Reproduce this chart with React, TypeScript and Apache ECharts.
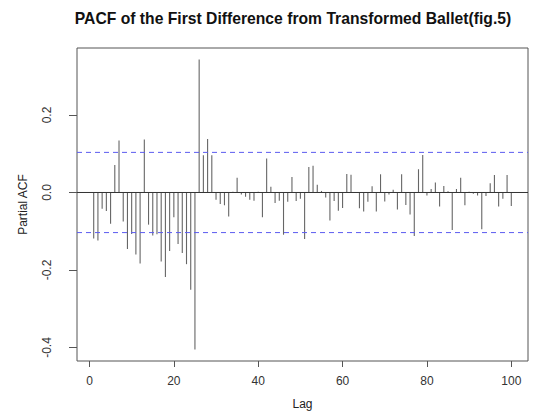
import React, { useEffect, useRef } from "react";
import * as echarts from "echarts";

const titleText = "PACF of the First Difference from Transformed Ballet(fig.5)";
const xAxisName = "Lag";
const yAxisName = "Partial ACF";
const xTickValues = [0, 20, 40, 60, 80, 100];
const yTickValues = [-0.4, -0.2, 0.0, 0.2];
const ciBound = 0.1035;

// partial autocorrelations for lags 1..100
const pacf = [
  -0.119, -0.124, -0.042, -0.048, -0.081, 0.071, 0.134, -0.075, -0.146, -0.107,
  -0.16, -0.183, 0.137, -0.083, -0.111, -0.108, -0.178, -0.218, -0.151, -0.064,
  -0.133, -0.156, -0.185, -0.251, -0.405, 0.343, 0.096, 0.138, 0.096, -0.019,
  -0.03, -0.033, -0.062, 0.002, 0.038, -0.005, -0.011, -0.019, -0.021, 0.002,
  -0.064, 0.088, 0.015, -0.027, -0.021, -0.109, -0.024, 0.04, -0.022, -0.016,
  -0.12, 0.066, 0.069, 0.02, 0.004, -0.013, -0.072, -0.022, -0.047, -0.04,
  0.048, 0.046, 0.001, -0.041, -0.049, -0.024, 0.016, -0.049, 0.047, -0.023,
  -0.005, 0.007, -0.044, 0.047, -0.032, -0.057, -0.112, 0.06, 0.097, -0.008,
  0.009, 0.026, -0.036, 0.017, 0.003, -0.097, 0.009, 0.038, -0.033, 0.002,
  -0.003, -0.008, -0.095, -0.009, 0.024, 0.045, -0.036, -0.016, 0.045, -0.035,
];

const FONT = "'Liberation Sans', Arial, Helvetica, sans-serif";
const BLUE = "#5c5cf0";

export default function App() {
  const ref = useRef<HTMLDivElement>(null);
  useEffect(() => {
    if (!ref.current) return;
    const chart = echarts.init(ref.current, undefined, { renderer: "svg" });
    const points = pacf.map((v, i) => [i + 1, v]);
    const n = pacf.length;
    const xPad = (n - 1) * 0.04;
    const xMin = 1 - xPad;
    const xMax = n + xPad;
    const yLo = Math.min(...pacf, -ciBound);
    const yHi = Math.max(...pacf, ciBound);
    const yPad = (yHi - yLo) * 0.04;
    const hLine = (y: number, color: string, type: any) => ({
      type: "line",
      data: [
        [xMin, y],
        [xMax, y],
      ],
      showSymbol: false,
      symbol: "none",
      silent: true,
      color,
      itemStyle: { color },
      lineStyle: { color, width: 1, type },
      emphasis: { disabled: true },
      z: 3,
    });
    chart.setOption({
      animation: false,
      backgroundColor: "#ffffff",
      title: {
        text: titleText,
        left: 288,
        top: 5,
        textAlign: "center",
        textStyle: { fontFamily: FONT, fontSize: 15.7, fontWeight: "bold", color: "#111" },
      },
      grid: {
        left: 77,
        top: 48,
        width: 451,
        height: 315,
        show: true,
        borderColor: "#555",
        borderWidth: 1,
        backgroundColor: "transparent",
      },
      xAxis: {
        type: "value",
        min: xMin,
        max: xMax,
        name: xAxisName,
        nameLocation: "middle",
        nameGap: 37,
        nameTextStyle: { fontFamily: FONT, fontSize: 12, color: "#222" },
        axisLine: { show: false, onZero: false },
        splitLine: { show: false },
        axisTick: { show: true, length: 6, customValues: xTickValues, lineStyle: { color: "#555" } },
        axisLabel: {
          customValues: xTickValues,
          margin: 14,
          fontFamily: FONT,
          fontSize: 12,
          color: "#333",
        },
      },
      yAxis: {
        type: "value",
        min: yLo - yPad,
        max: yHi + yPad,
        name: yAxisName,
        nameLocation: "middle",
        nameRotate: 90,
        nameGap: 48,
        nameTextStyle: { fontFamily: FONT, fontSize: 12, color: "#222" },
        axisLine: { show: false, onZero: false },
        splitLine: { show: false },
        axisTick: { show: true, length: 8, customValues: yTickValues, lineStyle: { color: "#555" } },
        axisLabel: {
          customValues: yTickValues,
          rotate: 90,
          margin: 24,
          fontFamily: FONT,
          fontSize: 12,
          color: "#333",
          formatter: (v: number) => v.toFixed(1),
        },
      },
      series: [
        {
          type: "custom",
          data: points,
          encode: { x: 0, y: 1 },
          z: 2,
          renderItem: (params: any, api: any) => {
            const lag = api.value(0);
            const v = api.value(1);
            const p0 = api.coord([lag, 0]);
            const p1 = api.coord([lag, v]);
            return {
              type: "line",
              shape: { x1: p0[0], y1: p0[1], x2: p1[0], y2: p1[1] },
              style: { stroke: "#666", lineWidth: 1.1 },
            };
          },
        },
        hLine(0, "#333333", "solid"),
        hLine(ciBound, BLUE, [5, 4]),
        hLine(-ciBound, BLUE, [5, 4]),
      ],
    });
    return () => chart.dispose();
  }, []);
  return (
    <div
      ref={ref}
      style={{ position: "fixed", left: 0, top: 0, width: 535, height: 415, background: "#fff" }}
    />
  );
}
